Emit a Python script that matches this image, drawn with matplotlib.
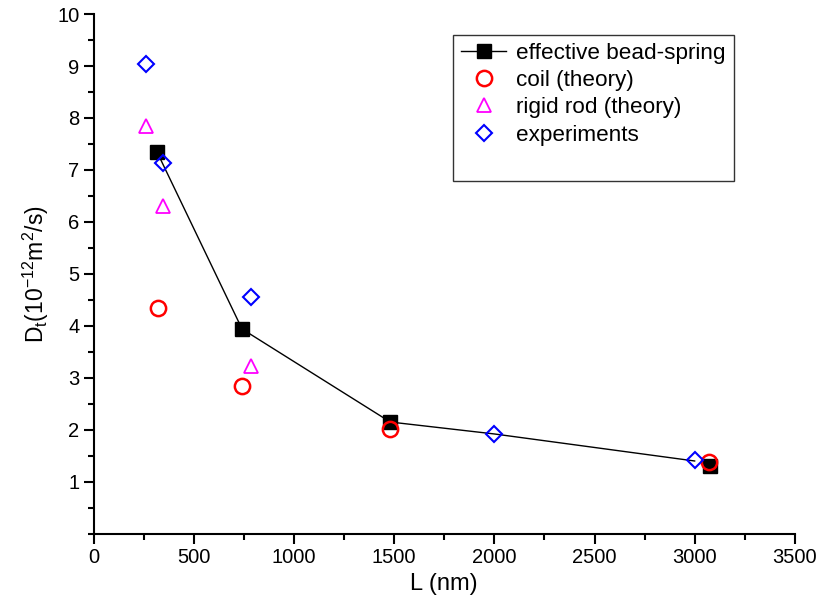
import matplotlib
matplotlib.use('Agg')
import matplotlib.pyplot as plt
from matplotlib.lines import Line2D
from matplotlib.ticker import MultipleLocator

plt.rcParams['font.family'] = ['Liberation Sans', 'DejaVu Sans']

# effective bead-spring (squares) and its connecting line
bs_L = [315, 740, 1480, 3075]
bs_D = [7.35, 3.94, 2.15, 1.31]
line_L = [315, 740, 1480, 2000, 3000]
line_D = [7.35, 3.94, 2.15, 1.92, 1.40]

# coil (theory)
coil_L = [320, 740, 1480, 3070]
coil_D = [4.35, 2.85, 2.01, 1.39]

# rigid rod (theory)
rod_L = [260, 345, 785]
rod_D = [7.85, 6.30, 3.23]

# experiments
exp_L = [260, 345, 785, 2000, 3000]
exp_D = [9.04, 7.14, 4.55, 1.92, 1.42]

fig = plt.figure(figsize=(8.16, 6.10), dpi=100)
ax = fig.add_axes([0.115, 0.125, 0.859, 0.852])

ax.plot(line_L, line_D, color='k', lw=1.0, zorder=2)
ax.plot(bs_L, bs_D, ls='none', marker='s', ms=10, color='k', zorder=3)
ax.plot(coil_L, coil_D, ls='none', marker='o', ms=11, mfc='none', mec='red', mew=1.8, zorder=4)
ax.plot(rod_L, rod_D, ls='none', marker='^', ms=9.5, mfc='none', mec='magenta', mew=1.3, zorder=4)
ax.plot(exp_L, exp_D, ls='none', marker='D', ms=8, mfc='none', mec='blue', mew=1.5, zorder=5)

ax.set_xlim(0, 3500)
ax.set_ylim(0, 10)
ax.xaxis.set_major_locator(MultipleLocator(500))
ax.xaxis.set_minor_locator(MultipleLocator(250))
ax.set_yticks(range(1, 11))
ax.yaxis.set_minor_locator(MultipleLocator(0.5))
ax.tick_params(which='major', direction='out', length=7, width=1.5, labelsize=14.5)
ax.tick_params(which='minor', direction='out', length=4, width=1.5)
for s in ['top', 'right']:
    ax.spines[s].set_visible(False)
for s in ['left', 'bottom']:
    ax.spines[s].set_linewidth(1.5)

ax.set_xlabel('L (nm)', fontsize=17)
ax.set_ylabel(r'D$_\mathregular{t}$(10$^\mathregular{-12}$m$^\mathregular{2}$/s)', fontsize=16.5)

handles = [
    Line2D([], [], color='k', lw=1.0, marker='s', ms=10),
    Line2D([], [], ls='none', marker='o', ms=11, mfc='none', mec='red', mew=1.8),
    Line2D([], [], ls='none', marker='^', ms=9.5, mfc='none', mec='magenta', mew=1.3),
    Line2D([], [], ls='none', marker='D', ms=8, mfc='none', mec='blue', mew=1.5),
    Line2D([], [], ls='none'),
]
labels = ['effective bead-spring', 'coil (theory)', 'rigid rod (theory)', 'experiments', ' ']
leg = ax.legend(handles, labels, loc='upper left', bbox_to_anchor=(0.513, 0.96),
                fontsize=16.2, frameon=True, fancybox=False, edgecolor='k',
                handlelength=2.0, handletextpad=0.45, labelspacing=0.28,
                borderpad=0.35, borderaxespad=0)
leg.get_frame().set_linewidth(1.0)

fig.savefig('out.png', dpi=100)
